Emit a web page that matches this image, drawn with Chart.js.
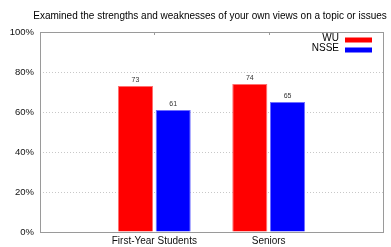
<!DOCTYPE html>
<html>
<head>
<meta charset="utf-8">
<script src="https://cdn.jsdelivr.net/npm/chart.js@4/dist/chart.umd.min.js"></script>
<style>
  html, body { margin: 0; padding: 0; background: #fff; }
</style>
</head>
<body>
<canvas id="chart" width="391" height="247"></canvas>
<script>
// blank slots at both ends, so the two groups sit at 1/3 and 2/3 of the axis
var categories = ['', 'First-Year Students', 'Seniors', ''];
var wu = [null, 73, 74, null];
var nsse = [null, 61, 65, null];
var yTicks = [0, 20, 40, 60, 80, 100];
var title = 'Examined the strengths and weaknesses of your own views on a topic or issues';

var FONT = '"Liberation Sans", Arial, sans-serif';

// title, frame, top tick marks, value labels and the legend box inside the plot
var extras = {
    id: 'extras',
    afterDatasetsDraw: function (chart) {
        var ctx = chart.ctx,
            area = chart.chartArea,
            x = chart.scales.x;
        ctx.save();

        ctx.fillStyle = '#000';
        ctx.font = '10px ' + FONT;
        ctx.textAlign = 'center';
        ctx.textBaseline = 'middle';
        ctx.fillText(title, 210, 16);

        ctx.strokeStyle = '#9a9a9a';
        ctx.lineWidth = 1;
        ctx.strokeRect(Math.round(area.left) + 0.5, Math.round(area.top) + 0.5,
            Math.round(area.right - area.left), Math.round(area.bottom - area.top));

        for (var i = 1; i < categories.length - 1; i++) {
            var px = Math.round(x.getPixelForValue(i)) + 0.5;
            ctx.beginPath();
            ctx.moveTo(px, area.top);
            ctx.lineTo(px, area.top + 3);
            ctx.stroke();
        }

        ctx.fillStyle = '#333';
        ctx.font = '7px ' + FONT;
        ctx.textAlign = 'center';
        ctx.textBaseline = 'bottom';
        chart.data.datasets.forEach(function (ds, di) {
            chart.getDatasetMeta(di).data.forEach(function (bar, j) {
                if (ds.data[j] == null) return;
                ctx.fillText(ds.data[j], bar.x, bar.y - 2.5);
            });
        });

        ctx.font = '10px ' + FONT;
        ctx.textAlign = 'right';
        ctx.textBaseline = 'middle';
        chart.data.datasets.forEach(function (ds, di) {
            var cy = area.top + 8 + di * 10;
            ctx.fillStyle = '#000';
            ctx.fillText(ds.label, area.right - 44, cy - 1.5);
            ctx.fillStyle = ds.backgroundColor;
            ctx.fillRect(area.right - 38, cy - 2.5, 27, 5);
        });
        ctx.restore();
    }
};

new Chart(document.getElementById('chart'), {
    type: 'bar',
    data: {
        labels: categories,
        datasets: [
            {
                label: 'WU',
                data: wu,
                backgroundColor: '#ff0000',
                borderColor: '#ff7070',
                borderWidth: 1,
                categoryPercentage: 0.66,
                barPercentage: 0.93
            },
            {
                label: 'NSSE',
                data: nsse,
                backgroundColor: '#0000ff',
                borderColor: '#6f6fff',
                borderWidth: 1,
                categoryPercentage: 0.66,
                barPercentage: 0.93
            }
        ]
    },
    options: {
        responsive: false,
        animation: false,
        devicePixelRatio: 1,
        layout: { padding: { left: 0, right: 8, top: 32, bottom: 0 } },
        plugins: {
            legend: { display: false },
            tooltip: { enabled: false },
            title: { display: false }
        },
        scales: {
            x: {
                offset: false,
                grid: { display: false, drawTicks: false },
                border: { display: false },
                ticks: {
                    color: '#111',
                    font: { family: FONT, size: 10 },
                    padding: 3,
                    maxRotation: 0,
                    autoSkip: false
                },
                afterFit: function (scale) { scale.height = 15; }
            },
            y: {
                min: 0,
                max: 100,
                afterBuildTicks: function (scale) {
                    scale.ticks = yTicks.map(function (v) { return { value: v }; });
                },
                grid: {
                    color: '#c8c8c8',
                    drawTicks: false
                },
                border: { display: false, dash: [1, 2] },
                ticks: {
                    color: '#111',
                    font: { family: FONT, size: 9.5 },
                    padding: 6,
                    callback: function (v) { return v + '%'; }
                },
                afterFit: function (scale) { scale.width = 40; }
            }
        }
    },
    plugins: [extras]
});
</script>
</body>
</html>
